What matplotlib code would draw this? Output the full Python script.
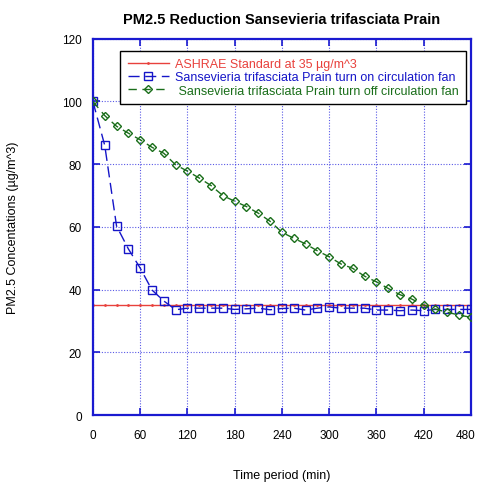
import matplotlib
matplotlib.use("Agg")
import matplotlib.pyplot as plt
import matplotlib.transforms as mtransforms

plt.rcParams["font.family"] = ["Liberation Sans", "DejaVu Sans"]

time_min = list(range(0, 481, 15))
fan_on = [100, 86, 60.3, 53, 46.9, 39.9, 36.4, 33.6, 34.1, 34.1, 34.1, 34.1, 33.7,
          33.9, 34.1, 33.6, 34.0, 34.1, 33.5, 34.1, 34.5, 34.1, 34.1, 34.1, 33.5,
          33.5, 33.3, 33.5, 33.3, 33.7, 33.7, 33.7, 33.7]
fan_off = [100, 95.5, 92.1, 89.9, 87.8, 85.4, 83.5, 79.8, 77.8, 75.6, 73.2, 70.0,
           68.2, 66.5, 64.4, 61.8, 58.3, 56.4, 54.6, 52.4, 50.5, 48.2, 46.8, 44.3,
           42.5, 40.4, 38.4, 37.0, 35.1, 33.8, 32.8, 31.9, 31.2]
standard = [35] * len(time_min)

fig = plt.figure(figsize=(4.79, 4.85), dpi=100)
ax = fig.add_axes([0.194, 0.142, 0.789, 0.776])

ax.plot(time_min, standard, color="#e8413c", lw=1.0, marker=".", ms=2,
        label="ASHRAE Standard at 35 µg/m^3", zorder=2)
ax.plot(time_min, fan_on, color="#1515c8", lw=1.0, ls=(0, (8, 4)), marker="s",
        ms=5.5, mfc="none", mew=1.0,
        label="Sansevieria trifasciata Prain turn on circulation fan", zorder=3)
ax.plot(time_min, fan_off, color="#1a6e1a", lw=1.0, ls=(0, (6, 4)), marker="D",
        ms=4, mfc="none", mew=1.0,
        label=" Sansevieria trifasciata Prain turn off circulation fan", zorder=3)

ax.set_xlim(0, 480)
ax.set_ylim(0, 120)
ax.set_xticks(range(0, 481, 60))
ax.set_yticks(range(0, 121, 20))
ax.grid(True, color="#3030e0", ls=(0, (1, 1.5)), lw=0.8, alpha=0.8)
for s in ax.spines.values():
    s.set_color("#1a1ad0")
    s.set_linewidth(1.6)
ax.tick_params(direction="in", length=5, color="#1a1ad0", labelsize=8.5,
               top=True, right=True, width=1.2)
ax.tick_params(axis="x", pad=10)
ax.tick_params(axis="y", pad=8)

# nudge the last x label so it stays inside the figure
last = ax.get_xticklabels()[-1]
last.set_transform(last.get_transform() +
                   mtransforms.ScaledTranslation(-4 / 72, 0, fig.dpi_scale_trans))

ax.set_title("PM2.5 Reduction Sansevieria trifasciata Prain", fontsize=10.5,
             fontweight="bold", pad=11)
ax.set_xlabel("Time period (min)", fontsize=9, labelpad=20)
ax.set_ylabel("PM2.5 Concentations (µg/m^3)", fontsize=9, labelpad=31)

leg = ax.legend(loc="upper right", bbox_to_anchor=(0.995, 0.975), fontsize=9,
                frameon=True, fancybox=False, borderpad=0.6, labelspacing=0.1,
                handlelength=3.3, handletextpad=0.5, borderaxespad=0.2,
                framealpha=1)
leg.get_frame().set_edgecolor("black")
leg.get_frame().set_linewidth(1.0)
for txt, c in zip(leg.get_texts(), ["#e8413c", "#1515c8", "#1a6e1a"]):
    txt.set_color(c)

fig.savefig("out.png", dpi=100)
